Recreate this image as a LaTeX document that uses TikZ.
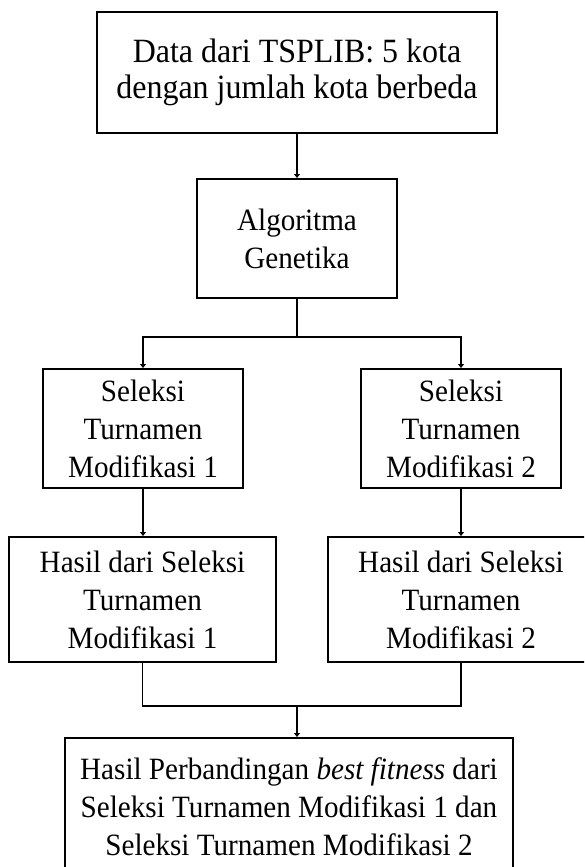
\documentclass[tikz,border=0pt]{standalone}
\usepackage{fontspec}
\setmainfont{Liberation Serif}[FakeStretch=0.94]
\usetikzlibrary{arrows.meta}

\tikzset{
  kotak/.style={draw=black, line width=2pt, align=center, inner sep=0pt,
    font=\fontsize{31}{38}\selectfont},
  garis/.style={line width=1.7pt},
  panah/.style={line width=1.7pt, -{Triangle[length=4pt,width=6pt]}},
}

\begin{document}
\begin{tikzpicture}[x=1pt, y=-1pt]
\useasboundingbox (0,0) rectangle (584,867);
\clip (0,0) rectangle (584,867);

% kotak-kotak
\node [kotak, minimum width=400, minimum height=121, font=\fontsize{34}{36}\selectfont] (data) at (297,72.5) {Data dari TSPLIB: 5 kota\\dengan jumlah kota berbeda};
\node [kotak, minimum width=200, minimum height=119] (ga) at (297,238.5) {Algoritma\\Genetika};
\node [kotak, minimum width=200, minimum height=119] (sel1) at (143,428.5) {Seleksi\\Turnamen\\Modifikasi 1};
\node [kotak, minimum width=200, minimum height=119] (sel2) at (461,428.5) {Seleksi\\Turnamen\\Modifikasi 2};
\node [kotak, minimum width=267, minimum height=125] (hasil1) at (142.5,599.5) {Hasil dari Seleksi\\Turnamen\\Modifikasi 1};
\node [kotak, minimum width=266, minimum height=125] (hasil2) at (461,599.5) {Hasil dari Seleksi\\Turnamen\\Modifikasi 2};
\node [kotak, minimum width=448, minimum height=137] (banding) at (289,806.5) {Hasil Perbandingan \textit{best fitness} dari\\Seleksi Turnamen Modifikasi 1 dan\\Seleksi Turnamen Modifikasi 2};

% titik cabang
\coordinate (cabang) at (297,337);
\coordinate (gabung) at (297,706);

% penghubung
\draw [panah] (data) -- (ga);
\draw [garis] (ga) -- (cabang);
\draw [panah] (cabang) -| (sel1.north);
\draw [panah] (cabang) -| (sel2.north);
\draw [panah] (sel1) -- (hasil1.north -| sel1);
\draw [panah] (sel2) -- (hasil2);
\draw [garis] (hasil1.south) |- (gabung) -| (hasil2.south);
\draw [panah] (gabung) -- (gabung |- banding.north);
\end{tikzpicture}
\end{document}
